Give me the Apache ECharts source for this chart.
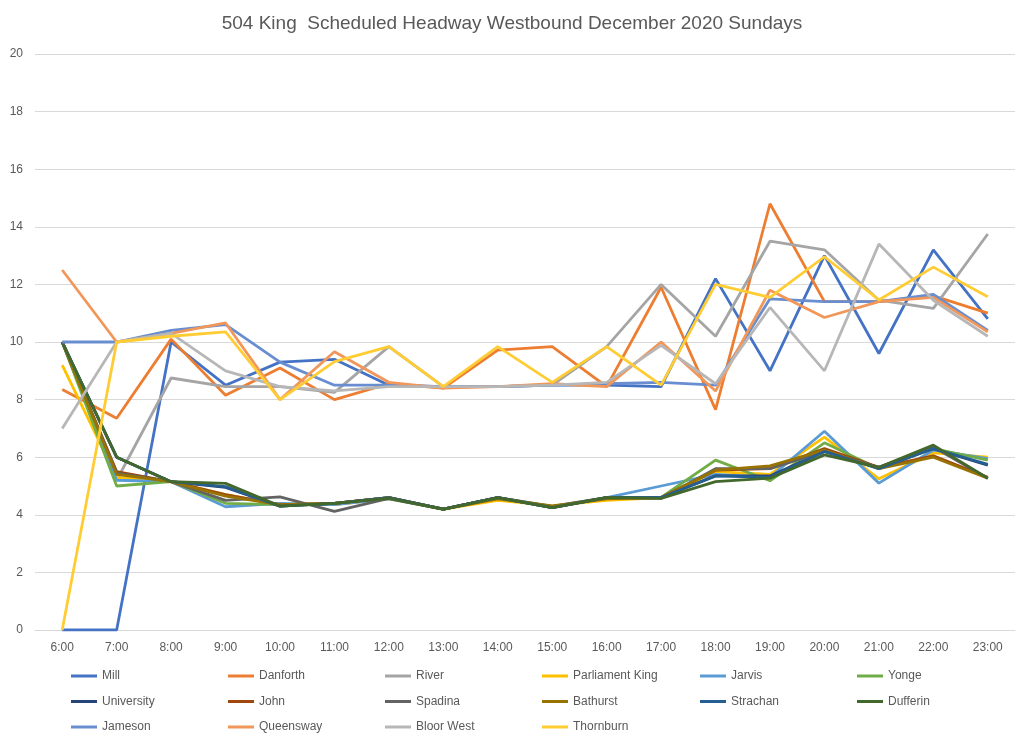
<!DOCTYPE html>
<html>
<head>
<meta charset="utf-8">
<script src="https://cdn.jsdelivr.net/npm/echarts@6/dist/echarts.min.js"></script>
<style>html,body{margin:0;padding:0;background:#fff}#c{width:1024px;height:739px}</style>
</head>
<body>
<div id="c"></div>
<script>
const categories = ["6:00","7:00","8:00","9:00","10:00","11:00","12:00","13:00","14:00","15:00","16:00","17:00","18:00","19:00","20:00","21:00","22:00","23:00"];
const mill          = [0, 0, 10.0, 8.5, 9.3, 9.4, 8.5, 8.45, 8.45, 8.5, 8.5, 8.45, 12.2, 9.0, 13.0, 9.6, 13.2, 10.8];
const danforth      = [8.35, 7.35, 10.1, 8.15, 9.1, 8.0, 8.55, 8.4, 9.72, 9.84, 8.45, 11.9, 7.65, 14.8, 11.4, 11.4, 11.6, 11.0];
const river         = [10, 5.2, 8.75, 8.45, 8.45, 8.25, 9.84, 8.45, 8.45, 8.5, 9.84, 12.0, 10.2, 13.5, 13.2, 11.45, 11.17, 13.75];
const parliamentKing= [9.2, 5.3, 5.15, 4.7, 4.35, 4.35, 4.55, 4.2, 4.5, 4.32, 4.5, 4.6, 5.5, 5.4, 6.7, 5.25, 6.15, 6.0];
const jarvis        = [10, 5.2, 5.15, 4.28, 4.4, 4.35, 4.55, 4.2, 4.6, 4.3, 4.6, 5.0, 5.4, 5.3, 6.9, 5.1, 6.25, 5.95];
const yonge         = [10, 5.0, 5.15, 4.4, 4.35, 4.4, 4.6, 4.2, 4.6, 4.28, 4.6, 4.6, 5.9, 5.18, 6.5, 5.6, 6.3, 5.9];
const university    = [10, 6.0, 5.15, 4.95, 4.3, 4.4, 4.6, 4.2, 4.6, 4.25, 4.6, 4.6, 5.35, 5.35, 6.2, 5.65, 6.3, 5.72];
const john          = [10, 5.5, 5.15, 4.7, 4.35, 4.4, 4.6, 4.2, 4.6, 4.28, 4.6, 4.6, 5.55, 5.6, 6.3, 5.65, 6.05, 5.3];
const spadina       = [10, 5.45, 5.15, 4.5, 4.62, 4.12, 4.57, 4.2, 4.6, 4.25, 4.6, 4.57, 5.6, 5.6, 6.2, 5.65, 6.35, 5.27];
const bathurst      = [10, 5.4, 5.15, 4.65, 4.35, 4.4, 4.6, 4.2, 4.55, 4.3, 4.55, 4.6, 5.55, 5.7, 6.25, 5.6, 6.0, 5.27];
const strachan      = [10, 6.0, 5.15, 4.98, 4.3, 4.4, 4.6, 4.2, 4.6, 4.25, 4.6, 4.6, 5.35, 5.3, 6.2, 5.6, 6.3, 5.75];
const dufferin      = [10, 6.0, 5.15, 5.09, 4.3, 4.4, 4.57, 4.19, 4.6, 4.25, 4.6, 4.57, 5.15, 5.27, 6.08, 5.65, 6.42, 5.27];
const jameson       = [10, 10, 10.4, 10.6, 9.3, 8.5, 8.5, 8.45, 8.45, 8.5, 8.55, 8.6, 8.5, 11.5, 11.4, 11.4, 11.65, 10.4];
const queensway     = [12.5, 10.0, 10.3, 10.66, 8.0, 9.66, 8.6, 8.4, 8.45, 8.55, 8.45, 10.0, 8.3, 11.8, 10.85, 11.4, 11.55, 10.35];
const bloorWest     = [7.0, 10.0, 10.3, 9.0, 8.45, 8.3, 8.45, 8.45, 8.45, 8.5, 8.6, 9.88, 8.55, 11.2, 9.0, 13.4, 11.45, 10.2];
const thornburn     = [0, 10.0, 10.2, 10.35, 8.0, 9.32, 9.84, 8.45, 9.84, 8.6, 9.84, 8.5, 12.0, 11.55, 12.96, 11.46, 12.6, 11.57];

const seriesNames = ["Mill","Danforth","River","Parliament King","Jarvis","Yonge","University","John","Spadina","Bathurst","Strachan","Dufferin","Jameson","Queensway","Bloor West","Thornburn"];
const seriesData = [mill,danforth,river,parliamentKing,jarvis,yonge,university,john,spadina,bathurst,strachan,dufferin,jameson,queensway,bloorWest,thornburn];
const colors = ["#4472C4","#ED7D31","#A5A5A5","#FFC000","#5B9BD5","#70AD47","#264478","#9E480E","#636363","#997300","#255E91","#43682B","#698ED0","#F1975A","#B7B7B7","#FFCD33"];

const font = "Liberation Sans";
const chart = echarts.init(document.getElementById('c'), null, {renderer:'canvas'});

// legend: 6 columns, 3 rows (row-major order)
const colX = [66, 223, 380, 537, 695, 852];
const legends = [];
for (let c = 0; c < 6; c++) {
  const items = [];
  for (let r = 0; r < 3; r++) { const i = r*6 + c; if (i < seriesNames.length) items.push(seriesNames[i]); }
  legends.push({
    data: items, orient: 'vertical', left: colX[c], top: 665, itemGap: 13.5,
    icon: 'rect', itemWidth: 26, itemHeight: 3,
    textStyle: {color:'#595959', fontSize: 12, fontFamily: font}, selectedMode: false
  });
}

chart.setOption({
  animation: false,
  color: colors,
  title: {text: "504 King  Scheduled Headway Westbound December 2020 Sundays", left: 'center', top: 9,
    textStyle: {color:'#595959', fontSize: 19, fontWeight: 'normal', fontFamily: font}},
  legend: legends,
  grid: {left: 35, right: 9, top: 54, bottom: 109, containLabel: false},
  xAxis: {type:'category', data: categories, boundaryGap: true,
    axisLine: {lineStyle:{color:'#d9d9d9', width:1}}, axisTick: {show:false},
    axisLabel: {color:'#595959', fontSize: 12, fontFamily: font, margin: 12}},
  yAxis: {type:'value', min:0, max:20, interval:2,
    axisLine:{show:false}, axisTick:{show:false},
    splitLine:{lineStyle:{color:'#d9d9d9', width:1}},
    axisLabel:{color:'#595959', fontSize:12, fontFamily: font, margin: 12}},
  series: seriesNames.map((n,i)=>({name:n, type:'line', data: seriesData[i], symbol:'none',
    lineStyle:{width:2.8, color: colors[i]}, itemStyle:{color: colors[i]}}))
});
</script>
</body>
</html>
